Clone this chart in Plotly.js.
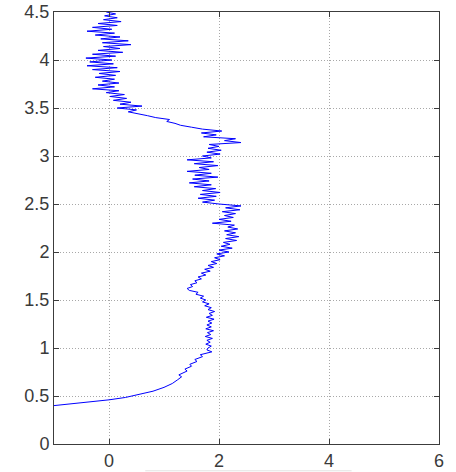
<!DOCTYPE html>
<html>
<head>
<meta charset="utf-8">
<script src="https://cdn.plot.ly/plotly-3.0.1.min.js"></script>
<style>html,body{margin:0;padding:0;background:#fff;}#chart{width:456px;height:472px;}</style>
</head>
<body>
<div id="chart"></div>
<script>
// Depth (vertical axis) values
const depth = [
  0.400,0.425,0.445,0.460,0.485,0.515,0.550,0.590,0.630,0.670,0.700,0.720,0.760,0.780,0.810,0.830,0.860,0.880,0.910,0.930,0.950,0.960,0.980,
  1.00,1.02,1.04,1.06,1.08,1.10,1.12,1.14,1.16,1.18,1.20,1.22,1.24,1.26,1.28,1.30,1.32,1.34,1.36,1.38,
  1.40,1.42,1.44,1.46,1.48,1.50,1.52,1.54,1.56,1.58,1.60,1.62,1.64,1.66,1.68,1.70,1.72,1.74,1.76,1.78,
  1.80,1.82,1.84,1.86,1.88,1.90,1.92,1.94,1.96,1.98,
  2.00,2.02,2.04,2.06,2.08,2.10,2.12,2.14,2.16,2.18,2.20,2.22,2.24,2.26,2.28,2.30,2.32,2.34,2.36,2.38,
  2.40,2.42,2.44,2.46,2.48,2.50,
  2.52,2.54,2.56,2.58,2.60,2.62,2.64,2.66,2.68,2.70,2.72,2.74,2.76,2.78,2.80,2.82,2.84,2.86,2.88,2.90,
  2.92,2.94,2.96,2.98,3.00,3.02,3.04,3.06,3.08,3.10,3.12,3.14,3.16,3.18,3.20,3.22,3.24,3.26,3.28,3.30,
  3.32,3.34,3.36,3.38,3.40,3.42,3.44,3.46,3.48,3.50,3.52,3.54,3.56,3.58,3.60,3.62,3.64,3.66,3.68,3.70,
  3.72,3.74,3.76,3.78,3.80,3.82,3.84,3.86,3.88,3.90,3.92,3.94,3.96,3.98,4.00,4.02,4.04,4.06,4.08,4.10,
  4.12,4.14,4.16,4.18,4.20,4.22,4.24,4.26,4.28,4.30,4.32,4.34,4.36,4.38,4.40,4.42,4.44,4.46,4.48,4.50
];
// Horizontal values at each depth
const value = [
  -1.00,-0.60,-0.20,0.00,0.30,0.55,0.80,1.00,1.15,1.25,1.32,1.27,1.42,1.38,1.50,1.47,1.60,1.56,1.70,1.66,1.80,1.87,1.78,
  1.80,1.86,1.76,1.84,1.78,1.88,1.75,1.85,1.79,1.90,1.76,1.86,1.78,1.87,1.80,1.91,1.77,1.88,1.82,1.92,
  1.80,1.86,1.74,1.82,1.70,1.76,1.66,1.72,1.58,1.62,1.46,1.42,1.52,1.48,1.60,1.56,1.68,1.62,1.76,1.68,
  1.84,1.74,1.90,1.80,1.96,1.86,2.02,1.92,2.10,1.96,
  2.18,2.00,2.24,2.04,2.20,2.08,2.32,2.12,2.36,2.14,2.30,2.10,2.34,2.16,2.28,1.88,2.22,2.00,2.26,2.10,
  2.30,2.06,2.38,2.12,2.40,2.00,
  1.70,1.92,1.62,1.95,1.66,2.02,1.70,1.94,1.55,1.86,1.46,1.82,1.52,1.98,1.56,1.86,1.42,1.82,1.64,1.98,
  1.55,1.90,1.42,1.86,1.70,2.02,1.78,2.04,1.80,2.00,1.82,2.40,2.10,2.30,1.72,1.95,1.68,2.05,1.70,1.50,
  1.30,1.20,1.05,1.10,0.85,0.70,0.55,0.35,0.50,0.15,0.60,0.20,0.40,0.08,0.32,0.02,0.28,-0.05,0.18,-0.30,
  0.10,-0.20,0.18,-0.12,0.10,-0.25,0.12,-0.18,0.20,-0.30,0.15,-0.40,0.08,-0.35,0.05,-0.42,0.12,-0.30,0.25,-0.20,
  0.20,-0.10,0.40,-0.12,0.35,-0.15,0.20,-0.25,0.10,-0.40,0.05,-0.30,0.15,-0.20,0.22,-0.10,0.15,-0.08,0.12,-0.05
];
const xTicks = [0, 2, 4, 6];
const xTickText = ['0', '2', '4', '6'];
const yTicks = [0, 0.5, 1, 1.5, 2, 2.5, 3, 3.5, 4, 4.5];
const yTickText = ['0', '0.5', '1', '1.5', '2', '2.5', '3', '3.5', '4', '4.5'];

const axisCommon = {
  showline: true, mirror: 'ticks', linecolor: '#3c3c3c', linewidth: 1,
  ticks: 'inside', ticklen: 5, tickcolor: '#3c3c3c', tickwidth: 1,
  showgrid: true, gridcolor: '#a8a8a8', gridwidth: 1, griddash: '1px,2px',
  zeroline: false, tickmode: 'array',
  tickfont: {family: '"Liberation Sans", Arial, Helvetica, sans-serif', size: 18, color: '#3a3a3a'}
};

Plotly.newPlot('chart', [{
  type: 'scatter', mode: 'lines',
  x: value, y: depth,
  line: {color: '#0000ff', width: 1},
  hoverinfo: 'skip'
}], {
  width: 456, height: 472,
  margin: {l: 54, r: 17, t: 12, b: 28, pad: 0},
  paper_bgcolor: '#ffffff', plot_bgcolor: '#ffffff',
  showlegend: false,
  xaxis: Object.assign({}, axisCommon, {range: [-1, 6], tickvals: xTicks, ticktext: xTickText}),
  yaxis: Object.assign({}, axisCommon, {range: [0, 4.5], tickvals: yTicks, ticktext: yTickText}),
  shapes: [{type: 'line', xref: 'paper', yref: 'paper', x0: 0.237, x1: 0.773, y0: -0.062, y1: -0.062,
            line: {color: '#e2e2e2', width: 1}}]
}, {staticPlot: true, displayModeBar: false});
</script>
</body>
</html>
